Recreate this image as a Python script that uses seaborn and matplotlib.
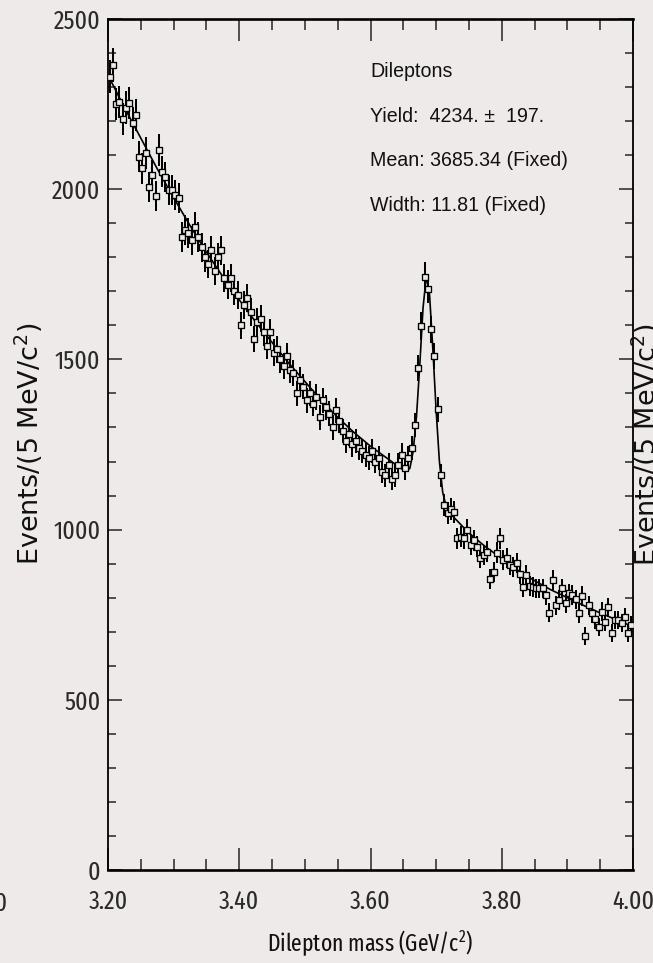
import numpy as np
import pandas as pd
import matplotlib
matplotlib.use("Agg")
import matplotlib.pyplot as plt
import matplotlib.font_manager as fm
import seaborn as sns
from matplotlib.ticker import MultipleLocator, FormatStrFormatter

# ---------------- data ----------------
bin_start = 3.20
bin_width = 0.005
counts = [
    2330, 2365, 2250, 2257, 2205, 2240, 2253, 2195, 2218, 2095, 2062, 2106, 2007, 2042, 1980, 2115, 2051, 2036, 1998, 1998, 1983, 1974, 1860, 1880, 1871,
    1850, 1890, 1860, 1830, 1800, 1780, 1820, 1760, 1800, 1820, 1740, 1720, 1740, 1700, 1690, 1600, 1660, 1680, 1640, 1560, 1610, 1620, 1580, 1540, 1580,
    1520, 1530, 1500, 1480, 1510, 1470, 1460, 1400, 1440, 1420, 1380, 1400, 1370, 1390, 1330, 1380, 1360, 1340, 1300, 1350, 1320, 1290, 1260, 1280, 1250,
    1260, 1240, 1230, 1220, 1210, 1230, 1200, 1210, 1170, 1160, 1190, 1150, 1160, 1190, 1220, 1180, 1210, 1240, 1307, 1475, 1598, 1743, 1707, 1589, 1510,
    1354, 1160, 1072, 1048, 1060, 1053, 974, 979, 974, 999, 955, 969, 950, 916, 925, 935, 854, 876, 932, 974, 911, 916, 896, 890, 902,
    870, 832, 867, 834, 832, 827, 827, 827, 808, 756, 852, 778, 793, 827, 783, 813, 808, 795, 754, 805, 687, 778, 754, 736, 715,
    759, 729, 772, 697, 734, 734, 725, 742, 695, 720,
]
fit_x = [3.200, 3.225, 3.250, 3.275, 3.300, 3.325, 3.350, 3.375, 3.400, 3.425, 3.450, 3.475,
         3.500, 3.525, 3.550, 3.575, 3.600, 3.625, 3.650, 3.655, 3.660, 3.665, 3.670, 3.675,
         3.680, 3.685, 3.690, 3.695, 3.700, 3.705, 3.710, 3.715, 3.720, 3.750, 3.775, 3.800,
         3.825, 3.850, 3.875, 3.900, 3.925, 3.950, 3.975, 4.000]
fit_y = [2335, 2240, 2150, 2060, 1975, 1893, 1815, 1743, 1675, 1610, 1550, 1490,
         1435, 1380, 1330, 1285, 1245, 1210, 1175, 1172, 1180, 1230, 1330, 1480,
         1650, 1745, 1690, 1530, 1350, 1200, 1110, 1070, 1050, 990, 950, 915,
         880, 850, 823, 800, 777, 755, 735, 715]
x_ticks = [3.20, 3.40, 3.60, 3.80, 4.00]
y_ticks = [0, 500, 1000, 1500, 2000, 2500]
info_lines = ["Dileptons", "Yield:  4234. \u00b1  197.", "Mean: 3685.34 (Fixed)", "Width: 11.81 (Fixed)"]
x_label = "Dilepton mass (GeV/c$^{2}$)"
y_label = "Events/(5 MeV/c$^{2}$)"

# ---------------- style ----------------
BG = "#edeae9"
sns.set_theme(style="ticks")
plt.rcParams["font.family"] = ["Liberation Sans", "DejaVu Sans"]
plt.rcParams["mathtext.default"] = "regular"
plt.rcParams["figure.facecolor"] = BG
plt.rcParams["axes.facecolor"] = BG


def pick_condensed():
    bad = ("Bold", "Italic", "Light", "Medium", "Thin", "Black", "Oblique", "Heavy")
    prefs = ["ExtraCondensed", "Narrow", "Condensed", "SemiCondensed"]
    entries = [f for f in fm.fontManager.ttflist]
    for key in prefs:
        for f in entries:
            base = f.fname.split("/")[-1]
            if key in base and not any(b in base.replace(key, "") for b in bad):
                if key == "Condensed" and ("Semi" in base or "Extra" in base):
                    continue
                if "Mono" in base or "Serif" in base:
                    continue
                return fm.FontProperties(fname=f.fname)
    return fm.FontProperties(family="Liberation Sans")


cond_fp = pick_condensed()
reg_fp = fm.FontProperties(family="Liberation Sans")
wide_fp = fm.FontProperties(family="DejaVu Sans")

W, H = 653, 963
fig = plt.figure(figsize=(W / 100, H / 100), dpi=100)
renderer = fig.canvas.get_renderer()


def sized(fp, text, target_px):
    p = fp.copy()
    p.set_size(20)
    t = fig.text(0, 0, text, fontproperties=p)
    w = t.get_window_extent(renderer=renderer).width
    t.remove()
    p.set_size(20 * target_px / w)
    return p


tick_fp = sized(cond_fp, "2500", 47)
xlab_fp = sized(cond_fp, x_label, 206)
ylab_fp = sized(wide_fp, y_label, 242)
info_fp = sized(reg_fp, "Width: 11.81 (Fixed)", 176)

ax = fig.add_axes([108 / W, 1 - 870 / H, (633 - 108) / W, (870 - 19) / H])

n = len(counts)
centers = bin_start + bin_width * (np.arange(n) + 0.5)
df = pd.DataFrame({"mass": centers, "events": counts})
df["err"] = np.sqrt(df["events"])
fit_df = pd.DataFrame({"mass": fit_x, "events": fit_y})

ax.errorbar(df["mass"], df["events"], yerr=df["err"], fmt="none",
            ecolor="black", elinewidth=1.45, capsize=0, zorder=2)
sns.lineplot(data=fit_df, x="mass", y="events", ax=ax, color="black",
             linewidth=1.2, zorder=3, sort=True)
sns.scatterplot(data=df, x="mass", y="events", ax=ax, marker="s", s=15,
                facecolor=BG, edgecolor="black", linewidth=0.95, zorder=4)

ax.set_xlim(3.20, 4.00)
ax.set_ylim(0, 2500)
ax.set_xticks(x_ticks)
ax.set_yticks(y_ticks)
ax.xaxis.set_minor_locator(MultipleLocator(0.05))
ax.yaxis.set_minor_locator(MultipleLocator(100))
ax.xaxis.set_major_formatter(FormatStrFormatter("%.2f"))

ax.tick_params(axis="x", which="major", direction="in", length=15.5, width=1.1,
               top=True, bottom=True, pad=14)
ax.tick_params(axis="x", which="minor", direction="in", length=7.9, width=1.1,
               top=True, bottom=True)
ax.tick_params(axis="y", which="major", direction="in", length=10, width=1.1,
               left=True, right=True, pad=5.5)
ax.tick_params(axis="y", which="minor", direction="in", length=5.8, width=1.1,
               left=True, right=True)
for lab in ax.get_xticklabels() + ax.get_yticklabels():
    lab.set_fontproperties(tick_fp)
    lab.set_color("#2a2a2a")

for side in ["top", "bottom"]:
    ax.spines[side].set_linewidth(1.9)
    ax.spines[side].set_color("black")
for side in ["left", "right"]:
    ax.spines[side].set_linewidth(1.3)
    ax.spines[side].set_color("black")

ax.set_xlabel(x_label, fontproperties=xlab_fp, color="#111111")
ax.xaxis.set_label_coords(0.5, -(943 - 870) / (870 - 19))
ax.xaxis.label.set_va("center")
ax.set_ylabel("")
fig.text(29 / W, 1 - 444 / H, y_label, rotation=90, ha="center", va="center",
         fontproperties=ylab_fp, color="#111111")

# info box text
baselines = [77, 122, 166.5, 211]
for t, b in zip(info_lines, baselines):
    fig.text(370 / W, 1 - b / H, t, ha="left", va="baseline",
             fontproperties=info_fp, color="#111111")

# fragments of neighbouring panels visible at the image edges
fig.text(7 / W, 1 - 904 / H, "4.00", ha="right", va="center",
         fontproperties=tick_fp, color="#2a2a2a")
fig.text(646 / W, 1 - 445 / H, y_label, rotation=90, ha="center", va="center",
         fontproperties=ylab_fp, color="#111111")

fig.savefig("out.png", dpi=100, facecolor=BG)
